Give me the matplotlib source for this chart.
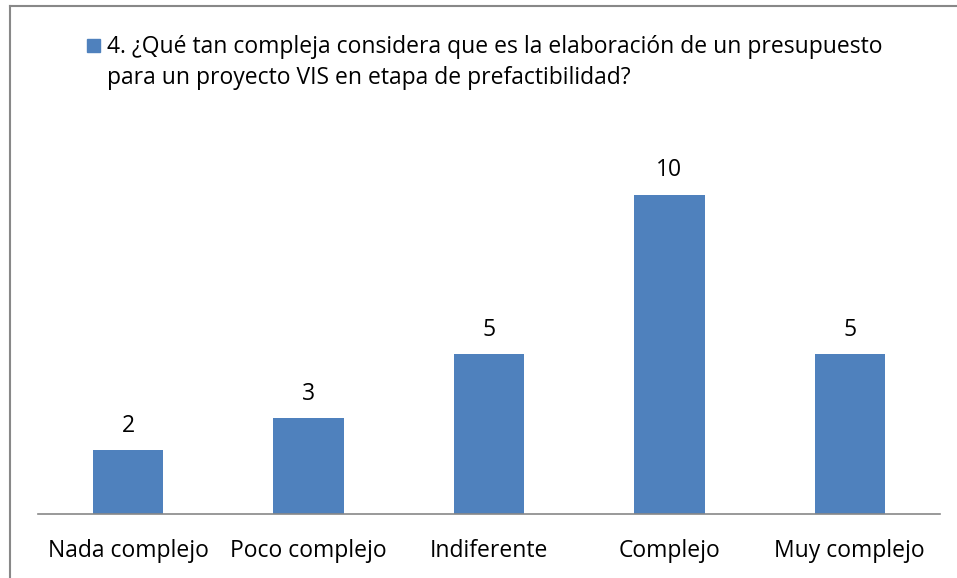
import matplotlib.pyplot as plt
from matplotlib.lines import Line2D
from matplotlib.patches import Rectangle

categories = ['Nada complejo', 'Poco complejo', 'Indiferente', 'Complejo', 'Muy complejo']
values = [2, 3, 5, 10, 5]
legend_text = ('4. ¿Qué tan compleja considera que es la elaboración de un presupuesto\n'
               'para un proyecto VIS en etapa de prefactibilidad?')

W, H = 957, 578
FS = 16.5
plt.rcParams['font.family'] = ['Open Sans', 'DejaVu Sans']

fig = plt.figure(figsize=(W / 100, H / 100), dpi=100)
ax = fig.add_axes([38 / W, 1 - 514 / H, (940 - 38) / W, (514 - 131) / H])

x = range(len(categories))
bars = ax.bar(x, values, width=0.39, color='#4F81BD')
ax.set_xlim(-0.5, len(categories) - 0.5)
ax.set_ylim(0, 12)

for b, v in zip(bars, values):
    ax.annotate(str(v), (b.get_x() + b.get_width() / 2, v), xytext=(0, 9),
                textcoords='offset points', ha='center', va='bottom', fontsize=FS)

ax.set_xticks(list(x))
ax.set_xticklabels(categories, fontsize=FS)
ax.tick_params(axis='x', length=0, pad=18)
ax.set_yticks([])
for s in ['top', 'right', 'left']:
    ax.spines[s].set_visible(False)
ax.spines['bottom'].set_color('#888888')
ax.spines['bottom'].set_linewidth(1.2)

# chart border (cut off at right and bottom)
fig.add_artist(Line2D([9.5 / W, 9.5 / W], [0, 1 - 5.5 / H], color='#888888', lw=1.5,
                      transform=fig.transFigure))
fig.add_artist(Line2D([9.5 / W, 1], [1 - 5.5 / H, 1 - 5.5 / H], color='#888888', lw=1.5,
                      transform=fig.transFigure))

# legend
fig.add_artist(Rectangle((87 / W, 1 - 52 / H), 13 / W, 13 / H, color='#4F81BD',
                         transform=fig.transFigure))
fig.text(107 / W, 1 - 35 / H, legend_text, fontsize=FS, va='top', ha='left',
         linespacing=1.4)

fig.savefig('out.png', dpi=100)
